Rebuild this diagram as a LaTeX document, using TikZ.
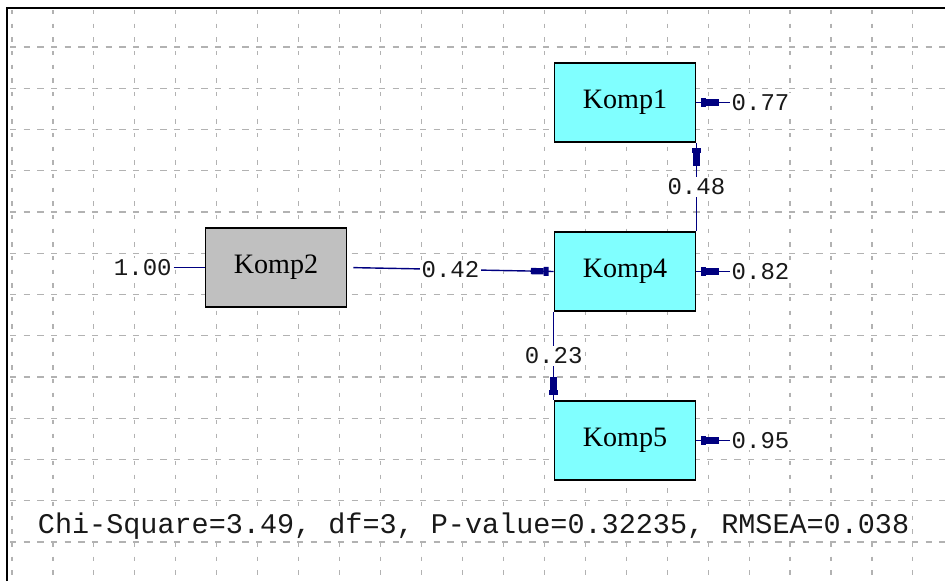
\documentclass[tikz,border=0pt]{standalone}
\usepackage{fontspec}
\setmainfont{Liberation Serif}
\newfontfamily\estfont{Liberation Mono}
\usetikzlibrary{arrows.meta,positioning,decorations.markings}
\definecolor{gridgray}{RGB}{178,178,178}
\definecolor{pathblue}{RGB}{0,0,128}
\definecolor{boxcyan}{RGB}{128,255,255}
\definecolor{boxgray}{RGB}{192,192,192}
\tikzset{x=0.03cm,y=-0.03cm,node distance=5.07cm,
  var/.style={draw=black,line width=1.5pt,minimum width=4.23cm,minimum height=2.37cm,inner sep=0pt,font=\fontsize{24}{28}\selectfont},
  endo/.style={var,fill=boxcyan},
  exo/.style={var,fill=boxgray},
  val/.style={fill=white,inner sep=1.5pt,text=black!90,font=\estfont\fontsize{20.5}{24}\selectfont},
  link/.style={draw=pathblue,line width=1.2pt},
  est/.style={link,postaction={decorate},decoration={markings,
    mark=at position -0.15cm with {\arrow{Rectangle[length=0.38cm,width=0.19cm,sep=0pt] Rectangle[length=0.15cm,width=0.27cm]}}}},
  gridv/.style={draw=gridgray,line width=1pt,dash pattern=on 0.13cm off 0.28cm},
  gridh/.style={draw=gridgray,line width=1pt,dash pattern=on 0.19cm off 0.22cm}}

\begin{document}
\begin{tikzpicture}
    \useasboundingbox[fill=white] (0,0) rectangle (945,581);
    % dotted background grid and frame
    \foreach \i in {0,...,22}
        \draw[gridv] ({12+40.95*\i},10) -- ({12+40.95*\i},581);
    \foreach \j in {0,...,12}
        \draw[gridh] (10,{47+41.25*\j}) -- (945,{47+41.25*\j});
    \draw[line width=2.4pt] (7,581) -- (7,8) -- (945,8);

    % variables
    \node[endo] (k4) at (625,271.5) {Komp4};
    \node[endo] (k1) [above of=k4] {Komp1};
    \node[endo] (k5) [below of=k4] {Komp5};
    \node[exo] (k2) [node distance=10.47cm, left of=k4, yshift=0.12cm] {Komp2};

    % error variances
    \node[val] (e1) [right=1.0cm of k1] {0.77};
    \node[val] (e4) [right=1.0cm of k4] {0.82};
    \node[val] (e5) [right=1.0cm of k5] {0.95};
    \node[val] (v2) [left=0.93cm of k2] {1.00};
    \draw[est] (e1) -- (k1);
    \draw[est] (e4) -- (k4);
    \draw[est] (e5) -- (k5);
    \draw[link] (v2) -- (k2);

    % paths
    \path
    (k2.east) edge[est, shorten <=0.18cm] node[val] {0.42} (k4.west)
    (k4.north east) edge[est] node[val] {0.48} (k1.south east)
    (k4.south west) edge[est] node[val] {0.23} (k5.north west)
    ;

    \node[val, anchor=west, font=\estfont\fontsize{24.3}{28}\selectfont] (fit) at (36,526)
        {Chi-Square=3.49, df=3, P-value=0.32235, RMSEA=0.038};
\end{tikzpicture}
\end{document}
